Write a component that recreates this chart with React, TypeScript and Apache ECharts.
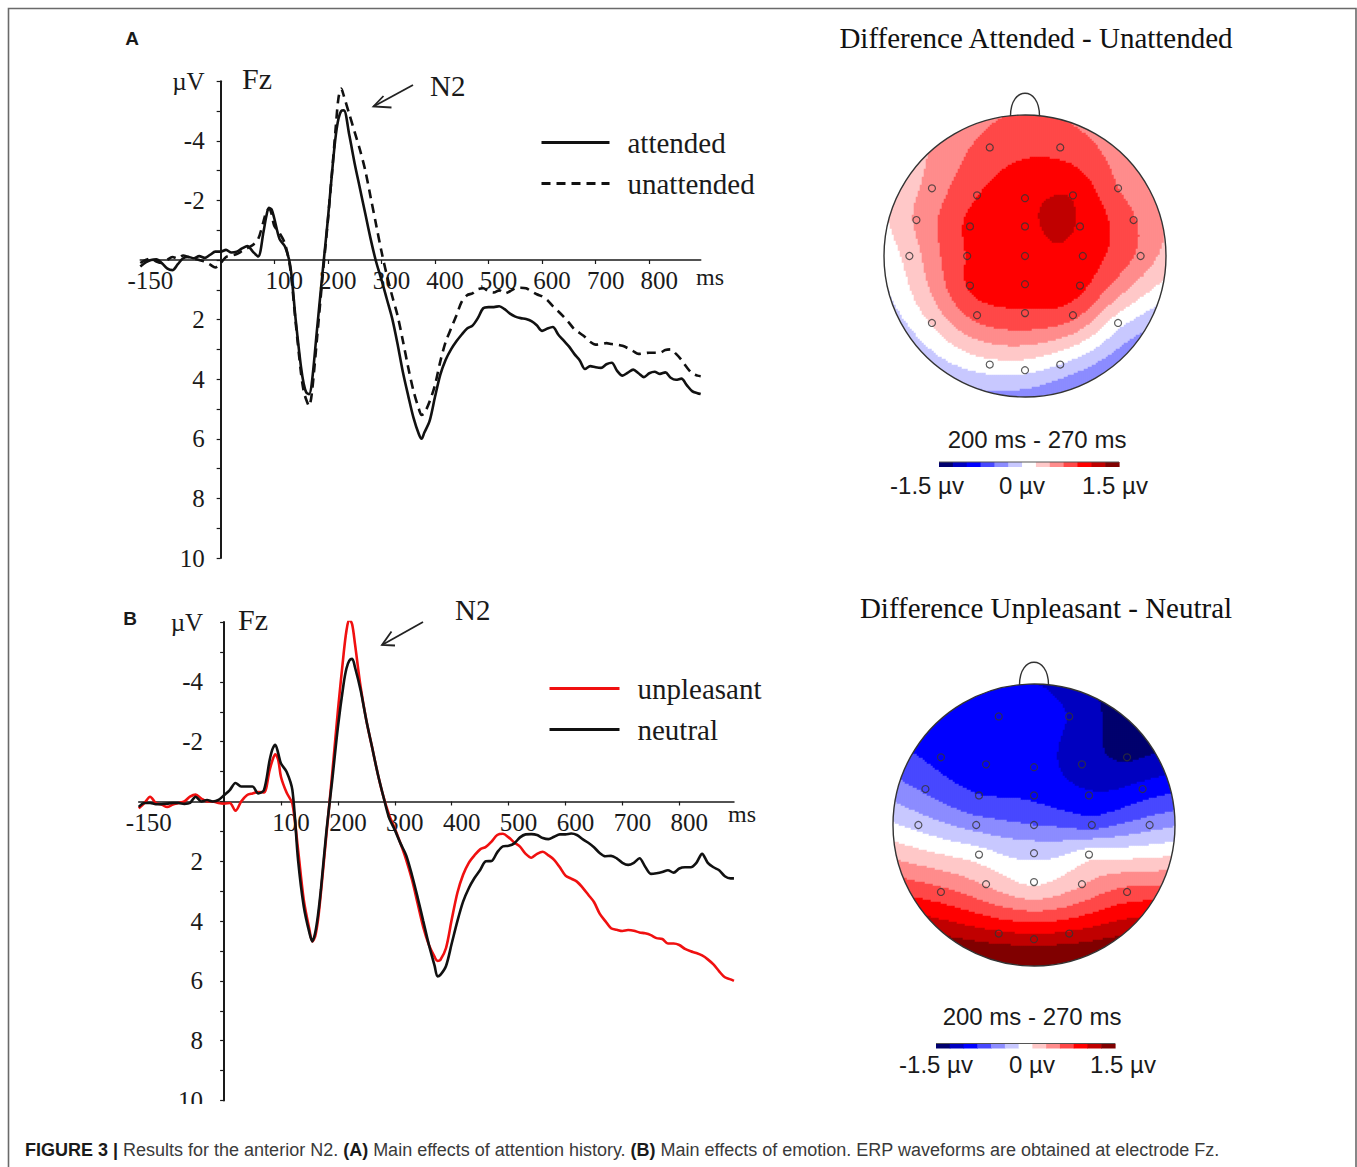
import React, { useEffect, useRef } from "react";
import * as echarts from "echarts";

const SERIF = "'Liberation Serif', 'Times New Roman', serif";
const SANS = "'Liberation Sans', Arial, sans-serif";
const INK = "#1a1a1a";

// ---------- ERP waveform data (ms, µV at Fz) ----------
const timesMs = [
  -150, -140, -130, -120, -110, -100, -90, -80, -70, -60, -50, -40, -30, -20, -10, 0, 10, 20, 30, 40, 50, 60, 70, 80,
  85, 90, 95, 100,
  110, 120, 130, 140, 150,
  155, 160, 165, 170,
  180, 190, 200, 210,
  215, 220, 225, 230,
  240, 250, 260, 270, 280, 290, 300, 310, 320, 330, 340, 350, 360, 370,
  375, 380,
  390, 400, 410, 420, 430, 440, 450, 460, 470, 480,
  490, 500, 510, 520, 530, 540, 550, 560, 570, 580,
  590, 600, 610, 620, 630, 640, 650, 660, 670, 680,
  690, 700, 710, 720, 730, 740, 750, 760, 770, 780,
  790, 800, 810, 820, 830, 840, 850, 860, 870, 880,
  890, 896,
];

const attended = [
  0.22, 0.08, 0.0, -0.02, 0.1, 0.28, 0.34, 0.14, -0.06, -0.1, -0.06, -0.13, -0.07, -0.17, -0.28, -0.28, -0.34, -0.25, -0.28, -0.39, -0.47, -0.28, -0.12, -0.95,
  -1.45, -1.75, -1.7, -1.4,
  -0.7, -0.45, 0.2, 2.0, 3.6,
  4.15, 4.45, 4.5, 4.15,
  2.3, 0.45, -1.35, -3.35,
  -4.2, -4.75, -5.0, -5.02,
  -4.2, -3.25, -2.4, -1.55, -0.7, 0.05, 0.65, 1.3, 1.95, 2.8, 3.75, 4.55, 5.3, 5.85,
  6.0, 5.8,
  5.4, 4.6, 3.85, 3.35, 3.0, 2.73, 2.5, 2.3, 2.2, 1.95,
  1.62, 1.58, 1.58, 1.55, 1.65, 1.8, 1.9, 1.95, 1.98, 2.05,
  2.19, 2.38, 2.3, 2.25, 2.5, 2.7, 2.9, 3.15, 3.36, 3.66,
  3.56, 3.6, 3.62, 3.5, 3.45, 3.72, 3.88, 3.78, 3.68, 3.8,
  3.93, 3.8, 3.75, 3.82, 3.77, 3.95, 4.02, 3.98, 4.2, 4.4,
  4.47, 4.5,
];

const unattended = [
  0.1, 0.0, -0.05, 0.05, 0.1, 0.0, -0.1, -0.05, -0.15, -0.1, -0.05, 0.0, 0.05, 0.15, 0.25, 0.1, -0.1, -0.15, -0.2, -0.3, -0.4, -0.5, -0.7, -1.3,
  -1.6, -1.72, -1.55, -1.15,
  -0.9, -0.55, 0.3, 2.1, 3.8,
  4.4, 4.7, 4.9, 4.5,
  2.6, 0.6, -1.3, -3.4,
  -4.5, -5.45, -5.75, -5.5,
  -4.9, -4.3, -3.7, -3.0, -2.1, -1.2, -0.3, 0.5, 1.2, 1.85, 2.7, 3.6, 4.4, 5.0,
  5.2, 5.15,
  4.75, 4.2, 3.4, 2.75, 2.3, 1.86, 1.4, 1.18, 1.12, 0.98,
  0.95, 1.05, 1.09, 1.02, 1.12, 1.05, 0.95, 0.93, 0.95, 1.05,
  1.15, 1.22, 1.35, 1.55, 1.72, 1.9, 2.1, 2.32, 2.45, 2.58,
  2.75, 2.84, 2.82, 2.79, 2.82, 2.84, 2.88, 2.96, 3.06, 3.15,
  3.13, 3.11, 3.11, 3.11, 3.02, 3.0, 3.15, 3.35, 3.6, 3.8,
  3.88, 3.9,
];

const unpleasant = [
  0.23, 0.05, -0.16, 0.05, 0.1, 0.18, 0.1, 0.05, 0.0, -0.16, -0.23, -0.1, 0.0, 0.0, 0.05, 0.07, 0.05, 0.31, 0.0, -0.21, -0.27, -0.32, -0.3, -1.05,
  -1.38, -1.58, -1.4, -0.82,
  -0.29, 0.07, 1.62, 3.29, 4.29,
  4.68, 4.51, 3.96, 3.07,
  1.07, -0.93, -3.04, -4.93,
  -5.71, -6.1, -5.93, -5.27,
  -3.82, -2.71, -1.82, -0.93, -0.16, 0.45, 0.9, 1.4, 1.95, 2.6, 3.4, 4.2, 4.8, 5.2,
  5.33, 5.3,
  4.9, 3.95, 3.05, 2.45, 2.05, 1.8, 1.6, 1.52, 1.34, 1.12,
  1.08, 1.2, 1.37, 1.51, 1.75, 1.88, 1.75, 1.68, 1.8, 1.95,
  2.2, 2.48, 2.58, 2.68, 2.88, 3.12, 3.36, 3.75, 4.0, 4.24,
  4.29, 4.33, 4.3, 4.32, 4.38, 4.41, 4.47, 4.57, 4.6, 4.75,
  4.75, 4.8, 4.93, 5.01, 5.07, 5.15, 5.28, 5.45, 5.68, 5.88,
  5.95, 6.0,
];

const neutral = [
  0.18, 0.05, 0.05, 0.09, 0.09, 0.07, 0.05, 0.05, 0.08, 0.05, -0.16, 0.0, -0.05, 0.0, -0.05, -0.21, -0.38, -0.62, -0.5, -0.5, -0.5, -0.27, -0.38, -1.38,
  -1.75, -1.9, -1.62, -1.27,
  -0.99, -0.38, 1.96, 3.51, 4.4,
  4.68, 4.4, 3.8, 2.96,
  0.96, -0.71, -2.49, -3.93,
  -4.45, -4.71, -4.77, -4.49,
  -3.71, -2.71, -1.82, -0.93, -0.16, 0.55, 0.95, 1.4, 1.8, 2.45, 3.2, 4.0, 4.8, 5.5,
  5.85, 5.8,
  5.5, 4.75, 4.0, 3.35, 2.9, 2.56, 2.29, 2.0, 1.99, 1.7,
  1.5, 1.48, 1.4, 1.2, 1.1, 1.09, 1.12, 1.22, 1.26, 1.18,
  1.1, 1.1, 1.07, 1.12, 1.26, 1.38, 1.53, 1.72, 1.83, 1.82,
  1.9, 2.05, 2.12, 2.05, 1.9, 2.18, 2.42, 2.4, 2.36, 2.3,
  2.38, 2.24, 2.2, 2.2, 2.05, 1.75, 2.05, 2.2, 2.3, 2.5,
  2.57, 2.57,
];

const xLabelValues = [-150, 100, 200, 300, 400, 500, 600, 700, 800];
const xTickValues = [100, 200, 300, 400, 500, 600, 700, 800];
const yLabelValues = [-6, -4, -2, 2, 4, 6, 8, 10];
const yTickValues = [-6, -5, -4, -3, -2, -1, 0, 1, 2, 3, 4, 5, 6, 7, 8, 9, 10];

// ---------- Topography data (electrode montage, difference in µV, 200-270 ms) ----------
const electrodeNames = [
  "Fp1", "Fp2", "F7", "F3", "Fz", "F4", "F8", "FT7", "FC3", "FCz", "FC4", "FT8",
  "T7", "C3", "Cz", "C4", "T8", "CP3", "CPz", "CP4", "P7", "P3", "Pz", "P4", "P8", "O1", "Oz", "O2",
];
const electrodeX = [
  -0.25, 0.25, -0.66, -0.34, 0, 0.34, 0.66, -0.77, -0.39, 0, 0.39, 0.77,
  -0.82, -0.41, 0, 0.41, 0.82, -0.39, 0, 0.39, -0.66, -0.34, 0, 0.34, 0.66, -0.25, 0, 0.25,
];
const electrodeY = [
  -0.77, -0.77, -0.48, -0.43, -0.41, -0.43, -0.48, -0.255, -0.21, -0.21, -0.21, -0.255,
  0, 0, 0, 0, 0, 0.21, 0.2, 0.21, 0.475, 0.42, 0.405, 0.42, 0.475, 0.77, 0.81, 0.77,
];
const attentionDiff = [
  0.66, 0.72, 0.43, 0.8, 0.98, 1.02, 0.58, 0.38, 0.86, 1.0, 1.02, 0.6,
  0.2, 0.82, 0.97, 0.95, 0.52, 0.84, 0.92, 0.88, 0.14, 0.66, 0.78, 0.66, -0.02, 0.03, -0.05, -0.12,
];
const emotionDiff = [
  -0.92, -1.05, -0.88, -0.95, -0.95, -1.15, -1.3, -0.62, -0.8, -0.85, -1.0, -0.95,
  -0.2, -0.45, -0.58, -0.68, -0.45, 0.0, -0.18, 0.02, 0.65, 0.32, 0.06, 0.32, 0.65, 1.08, 1.15, 1.08,
];

const scaleMin = -1.5;
const scaleMax = 1.5;
const bandColors = [
  "#00006e", "#0000c0", "#0000ff", "#4848ff", "#8c8cff", "#c8c8ff", "#ffffff",
  "#ffc8c8", "#ff8c8c", "#ff4848", "#ff0000", "#c00000", "#800000",
];
const colorbarLabels = ["-1.5 µv", "0 µv", "1.5 µv"];

// ---------- helpers ----------
const pairs = (vals: number[]) => timesMs.map((t, i) => [t, vals[i]]);

function tpsPhi(r: number) {
  return r < 1e-9 ? 0 : r * r * Math.log(r);
}

function makeTps(xs: number[], ys: number[], vs: number[]) {
  const n = xs.length;
  const m = n + 3;
  const A: number[][] = [];
  for (let i = 0; i < m; i++) A.push(new Array(m + 1).fill(0));
  for (let i = 0; i < n; i++) {
    for (let j = 0; j < n; j++) A[i][j] = tpsPhi(Math.hypot(xs[i] - xs[j], ys[i] - ys[j]));
    A[i][n] = 1;
    A[i][n + 1] = xs[i];
    A[i][n + 2] = ys[i];
    A[n][i] = 1;
    A[n + 1][i] = xs[i];
    A[n + 2][i] = ys[i];
    A[i][m] = vs[i];
  }
  for (let c = 0; c < m; c++) {
    let p = c;
    for (let r = c + 1; r < m; r++) if (Math.abs(A[r][c]) > Math.abs(A[p][c])) p = r;
    const tmp = A[c];
    A[c] = A[p];
    A[p] = tmp;
    for (let r = 0; r < m; r++) {
      if (r === c) continue;
      const f = A[r][c] / A[c][c];
      if (f === 0) continue;
      for (let k = c; k <= m; k++) A[r][k] -= f * A[c][k];
    }
  }
  const w = A.map((row, i) => row[m] / row[i]);
  return (x: number, y: number) => {
    let s = w[n] + w[n + 1] * x + w[n + 2] * y;
    for (let i = 0; i < n; i++) s += w[i] * tpsPhi(Math.hypot(x - xs[i], y - ys[i]));
    return s;
  };
}

const TOPO_N = 141;
function topoCells(vals: number[]) {
  const f = makeTps(electrodeX, electrodeY, vals);
  const cells: number[][] = [];
  for (let i = 0; i < TOPO_N; i++) {
    for (let j = 0; j < TOPO_N; j++) {
      const u = -1 + (2 * i + 1) / TOPO_N;
      const v = -1 + (2 * j + 1) / TOPO_N;
      if (Math.hypot(u, v) > 1 + 3 / TOPO_N) continue;
      cells.push([i, j, Math.round(f(u, v) * 1000) / 1000]);
    }
  }
  return cells;
}

// ---------- layout ----------
const erpGrids = [
  { left: 140.3, top: 81.2, width: 560.4, height: 476.8 },
  { left: 138.75, top: 622.1, width: 595.2, height: 478.4 },
];
const xMin = -150;
const xMax = 896;
const yMin = -6;
const yMax = 10;
const topoGrids = [
  { left: 884, top: 115, width: 282, height: 282 },
  { left: 893, top: 684, width: 282, height: 282 },
];

function buildOption() {
  const bandW = (scaleMax - scaleMin) / bandColors.length;
  const pieces = bandColors.map((c, k) => {
    const p: any = { color: c };
    if (k > 0) p.gte = scaleMin + k * bandW;
    if (k < bandColors.length - 1) p.lt = scaleMin + (k + 1) * bandW;
    return p;
  });

  const erpX = (gridIndex: number) => {
    const g = erpGrids[gridIndex];
    const offset = -(g.height * (yMax - 0)) / (yMax - yMin);
    return {
      type: "value",
      gridIndex,
      min: xMin,
      max: xMax,
      position: "bottom",
      offset,
      axisLine: { onZero: false, lineStyle: { color: INK, width: 1.6 } },
      axisTick: { show: true, customValues: xTickValues, length: 4, lineStyle: { color: INK, width: 1.2 } },
      axisLabel: {
        customValues: xLabelValues,
        margin: 8,
        color: INK,
        fontFamily: SERIF,
        fontSize: 25,
        padding: [0, 0, 0, 20],
      },
      splitLine: { show: false },
    };
  };
  const erpY = (gridIndex: number, margin: number) => {
    const g = erpGrids[gridIndex];
    const offset = -(g.width * (0 - xMin)) / (xMax - xMin);
    return {
      type: "value",
      gridIndex,
      min: yMin,
      max: yMax,
      inverse: true,
      position: "left",
      offset,
      axisLine: { onZero: false, lineStyle: { color: INK, width: 2 } },
      axisTick: { show: true, customValues: yTickValues, length: 4, lineStyle: { color: INK, width: 1.2 } },
      axisLabel: {
        customValues: yLabelValues,
        formatter: (v: number) => (v === -6 ? "µV" : String(v)),
        margin,
        color: INK,
        fontFamily: SERIF,
        fontSize: 25,
      },
      splitLine: { show: false },
    };
  };
  const idx = Array.from({ length: TOPO_N }, (_, k) => String(k));
  const catX = (gridIndex: number) => ({ type: "category", gridIndex, data: idx, show: false });
  const catY = (gridIndex: number) => ({ type: "category", gridIndex, data: idx, show: false, inverse: true });
  const valX = (gridIndex: number) => ({ type: "value", gridIndex, min: -1, max: 1, show: false, splitLine: { show: false } });
  const valY = (gridIndex: number) => ({ type: "value", gridIndex, min: -1, max: 1, inverse: true, show: false, splitLine: { show: false } });

  const electrodes = electrodeNames.map((name, k) => ({ name, value: [electrodeX[k], electrodeY[k]] }));

  const line = (name: string, vals: number[], gi: number, color: string, type: any) => ({
    name,
    type: "line",
    xAxisIndex: gi,
    yAxisIndex: gi,
    data: pairs(vals),
    symbol: "none",
    smooth: 0.3,
    lineStyle: { color, width: 2.6, type },
    itemStyle: { color },
    emphasis: { disabled: true },
    silent: true,
    z: 3,
  });

  const heat = (gi: number, vals: number[]) => ({
    type: "heatmap",
    xAxisIndex: gi,
    yAxisIndex: gi,
    data: topoCells(vals),
    progressive: 0,
    silent: true,
    emphasis: { disabled: true },
    itemStyle: { borderWidth: 0 },
  });
  const dots = (gi: number) => ({
    type: "scatter",
    xAxisIndex: gi,
    yAxisIndex: gi,
    data: electrodes,
    symbol: "circle",
    symbolSize: 7,
    silent: true,
    itemStyle: { color: "rgba(0,0,0,0)", borderColor: "#333", borderWidth: 1.2 },
    z: 6,
  });

  const text = (x: number, y: number, t: string, fontSize: number, fontFamily: string, align = "left", extra: any = {}) => ({
    type: "text",
    x,
    y,
    z: 60,
    silent: true,
    style: { text: t, fontSize, fontFamily, fill: INK, align, verticalAlign: "middle", ...extra },
  });

  const head = (g: { left: number; top: number; width: number }, noseTop: number) => {
    const R = g.width / 2;
    const cx = g.left + R;
    const cy = g.top + R;
    const nh = g.top - noseTop;
    return [
      { type: "ring", z: 50, silent: true, shape: { cx, cy, r: R + 9, r0: R }, style: { fill: "#ffffff" } },
      { type: "circle", z: 52, silent: true, shape: { cx, cy, r: R }, style: { fill: "none", stroke: "#333", lineWidth: 1.4 } },
      {
        type: "bezierCurve",
        z: 52,
        silent: true,
        shape: { x1: cx - 14.5, y1: g.top + 1, x2: cx + 14.5, y2: g.top + 1, cpx1: cx - 14.5, cpy1: g.top - nh / 0.75, cpx2: cx + 14.5, cpy2: g.top - nh / 0.75 },
        style: { fill: "none", stroke: "#333", lineWidth: 1.4 },
      },
    ];
  };

  const colorbar = (x0: number, x1: number, y: number, labelY: number, labelXs: number[]) => {
    const w = (x1 - x0) / bandColors.length;
    const els: any[] = bandColors.map((c, k) => ({
      type: "rect",
      z: 55,
      silent: true,
      shape: { x: x0 + k * w, y, width: w + 0.6, height: 5 },
      style: { fill: c },
    }));
    els.push({ type: "line", z: 56, silent: true, shape: { x1: x0, y1: y, x2: x1, y2: y }, style: { stroke: "#555", lineWidth: 1 } });
    colorbarLabels.forEach((t, k) => els.push(text(labelXs[k], labelY, t, 24, SANS, "center")));
    return els;
  };

  const arrow = (sx: number, sy: number, tx: number, ty: number, a1: number[], a2: number[]) => [
    { type: "line", z: 60, silent: true, shape: { x1: sx, y1: sy, x2: tx, y2: ty }, style: { stroke: "#222", lineWidth: 1.8 } },
    { type: "polyline", z: 60, silent: true, shape: { points: [a1, [tx, ty], a2] }, style: { stroke: "#222", lineWidth: 1.8, fill: "none" } },
  ];

  const graphics: any[] = [
    { type: "rect", z: 1, silent: true, shape: { x: 8.5, y: 8.5, width: 1347.5, height: 1250 }, style: { fill: "none", stroke: "#6a6a6a", lineWidth: 1.6 } },
    text(132, 38, "A", 19, SANS, "center", { fontWeight: "bold" }),
    text(130, 618, "B", 19, SANS, "center", { fontWeight: "bold" }),
    text(242, 78, "Fz", 30, SERIF),
    text(238, 619, "Fz", 30, SERIF),
    text(430, 86, "N2", 29, SERIF),
    text(455, 610, "N2", 29, SERIF),
    text(696, 277, "ms", 24, SERIF),
    text(728, 814, "ms", 24, SERIF),
    ...arrow(413, 85, 373.5, 106.5, [383.5, 96], [391.5, 107.5]),
    ...arrow(423, 622, 382, 645, [391.5, 631.5], [395, 645.5]),
    { type: "rect", z: 58, silent: true, shape: { x: 160, y: 1104, width: 60, height: 26 }, style: { fill: "#ffffff" } },
    text(1036, 38, "Difference Attended - Unattended", 29, SERIF, "center", { fill: "#111" }),
    text(1046, 608, "Difference Unpleasant - Neutral", 29, SERIF, "center", { fill: "#111" }),
    ...head(topoGrids[0], 93),
    ...head(topoGrids[1], 662),
    text(1037, 439, "200 ms - 270 ms", 24, SANS, "center"),
    text(1032, 1016, "200 ms - 270 ms", 24, SANS, "center"),
    ...colorbar(939, 1119, 462, 485, [927, 1022, 1115]),
    ...colorbar(936, 1115, 1043.5, 1064, [936, 1032, 1123]),
    {
      type: "text",
      x: 25,
      y: 1150,
      z: 60,
      silent: true,
      style: {
        text:
          "{b|FIGURE 3 |} Results for the anterior N2. {b|(A)} Main effects of attention history. {b|(B)} Main effects of emotion. ERP waveforms are obtained at electrode Fz.",
        fontSize: 18,
        fontFamily: SANS,
        fill: "#3a3a3a",
        align: "left",
        verticalAlign: "middle",
        rich: { b: { fontSize: 18, fontFamily: SANS, fontWeight: "bold", fill: "#1a1a1a" } },
      },
    },
  ];

  const legendBase = {
    orient: "vertical",
    itemHeight: 14,
    itemGap: 12,
    selectedMode: false,
    itemStyle: { opacity: 0 },
    lineStyle: { width: 3 },
    textStyle: { fontFamily: SERIF, fontSize: 29, color: INK, padding: [0, 0, 0, 13] },
  };

  return {
    animation: false,
    backgroundColor: "#ffffff",
    grid: [...erpGrids, ...topoGrids, ...topoGrids].map((g) => ({ ...g, containLabel: false })),
    xAxis: [erpX(0), erpX(1), catX(2), catX(3), valX(4), valX(5)],
    yAxis: [erpY(0, 16), erpY(1, 21), catY(2), catY(3), valY(4), valY(5)],
    legend: [
      { ...legendBase, data: ["attended", "unattended"], left: 535, top: 123, itemWidth: 68 },
      { ...legendBase, data: ["unpleasant", "neutral"], left: 543, top: 669, itemWidth: 70 },
    ],
    visualMap: {
      type: "piecewise",
      show: false,
      dimension: 2,
      seriesIndex: [4, 5],
      pieces,
    },
    series: [
      line("attended", attended, 0, "#111111", "solid"),
      line("unattended", unattended, 0, "#111111", [9, 6]),
      line("unpleasant", unpleasant, 1, "#f01010", "solid"),
      line("neutral", neutral, 1, "#111111", "solid"),
      heat(2, attentionDiff),
      heat(3, emotionDiff),
      dots(4),
      dots(5),
    ],
    graphic: { elements: graphics },
  };
}

export default function App() {
  const ref = useRef<HTMLDivElement>(null);
  useEffect(() => {
    if (!ref.current) return;
    const chart = echarts.init(ref.current, null, { renderer: "svg" });
    chart.setOption(buildOption() as any);
    return () => chart.dispose();
  }, []);
  return (
    <div
      ref={ref}
      style={{ position: "absolute", left: 0, top: 0, width: 1357, height: 1167, background: "#ffffff" }}
    />
  );
}
